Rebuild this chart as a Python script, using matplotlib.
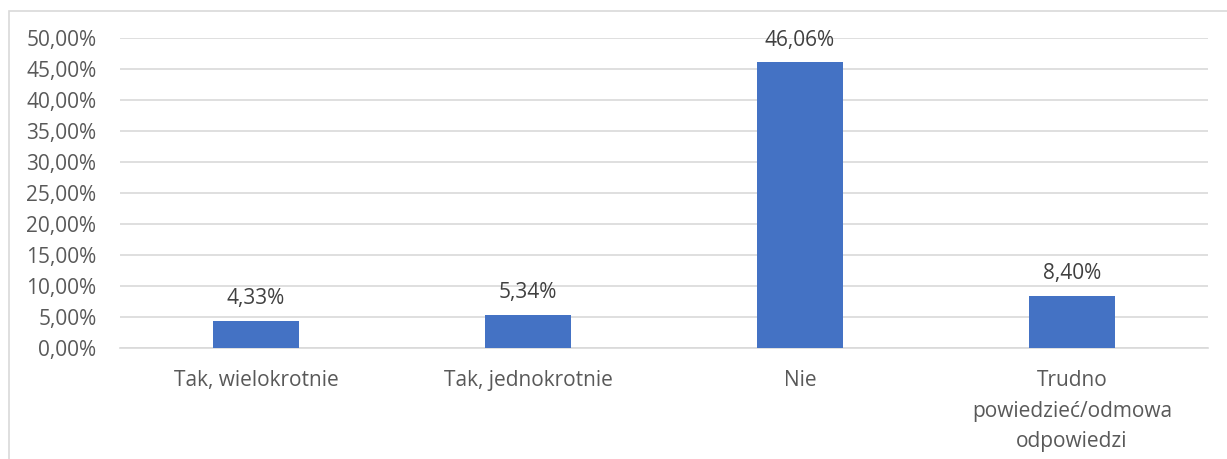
import matplotlib.pyplot as plt
from matplotlib.patches import Rectangle

# dane z wykresu
categories = ['Tak, wielokrotnie', 'Tak, jednokrotnie', 'Nie',
              'Trudno\npowiedzieć/odmowa\nodpowiedzi']
values = [4.33, 5.34, 46.06, 8.40]
yticks = [0, 5, 10, 15, 20, 25, 30, 35, 40, 45, 50]

plt.rcParams['font.family'] = ['Open Sans', 'DejaVu Sans']
text_color = '#595959'
bar_color = '#4472C4'
grid_color = '#D9D9D9'


def pl_pct(v, decimals=2):
    return f"{v:.{decimals}f}".replace('.', ',') + '%'


fig = plt.figure(figsize=(12.27, 4.59), dpi=100)
W, H = 1227, 459

# ramka wykresu
fig.patches.append(Rectangle((8.5 / W, -0.1), 1.2, 1 - 10.5 / H + 0.1,
                             transform=fig.transFigure, fill=False,
                             edgecolor=grid_color, linewidth=1.2))

ax = fig.add_axes([120 / W, 1 - 348 / H, (1208 - 120) / W, (348 - 38) / H])

x = range(len(categories))
ax.bar(x, values, width=0.315, color=bar_color, zorder=3)
ax.set_xlim(-0.5, len(categories) - 0.5)
ax.set_ylim(0, 50)
ax.set_yticks(yticks)
ax.set_yticklabels([pl_pct(t) for t in yticks])
ax.set_xticks(list(x))
ax.set_xticklabels(categories, linespacing=1.6)

ax.grid(axis='y', color=grid_color, linewidth=1.2, zorder=0)
for s in ['top', 'right', 'left']:
    ax.spines[s].set_visible(False)
ax.spines['bottom'].set_color(grid_color)
ax.spines['bottom'].set_linewidth(1.2)
ax.tick_params(axis='both', length=0, labelsize=15, colors=text_color)
ax.tick_params(axis='y', pad=17)
ax.tick_params(axis='x', pad=16)

for i, v in enumerate(values):
    ax.annotate(pl_pct(v), (i, v), xytext=(0, 8.5), textcoords='offset points',
                ha='center', va='bottom', fontsize=15, color='#404040')

fig.savefig('out.png', dpi=100)
